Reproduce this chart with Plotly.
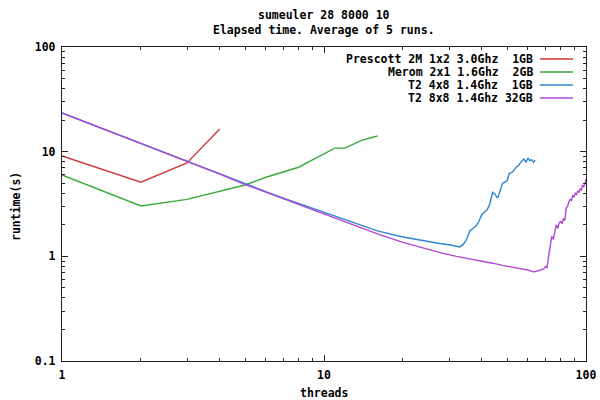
import plotly.graph_objects as go

# ---- data ----
prescott_threads = [1, 2, 3, 4]
prescott_runtime = [9.1, 5.1, 7.8, 16.5]

merom_threads = [1, 2, 3, 4, 5, 6, 7, 8, 9, 10, 11, 12, 13, 14, 15, 16]
merom_runtime = [6.0, 3.03, 3.5, 4.2, 4.8, 5.7, 6.4, 7.1, 8.3, 9.5, 10.8, 10.8, 11.8, 12.9, 13.5, 14.1]

t2_4x8_threads = [1, 2, 3, 4, 5, 6, 7, 8, 9, 10, 12, 14, 16, 20, 24, 28, 30, 32, 33,
                  34, 35, 36, 37, 38, 39, 40, 41, 42, 43, 44, 45, 46, 47, 48, 49, 50,
                  51, 52, 53, 54, 55, 56, 57, 58, 59, 60, 61, 62, 63, 64]
t2_4x8_runtime = [23.4, 12.0, 8.0, 6.1, 4.9, 4.15, 3.6, 3.2, 2.87, 2.62, 2.25, 1.97, 1.75, 1.53, 1.40, 1.32, 1.29, 1.25, 1.23,
                  1.30, 1.45, 1.75, 1.85, 1.95, 2.15, 2.5, 2.65, 2.8, 3.2, 4.1, 3.9, 3.6, 4.2, 5.0, 5.1, 5.3,
                  6.2, 6.3, 6.6, 7.1, 7.3, 7.8, 8.2, 8.5, 7.9, 8.7, 8.2, 8.4, 7.9, 8.3]

t2_8x8_threads = [1, 2, 3, 4, 5, 6, 7, 8, 9, 10, 12, 14, 16, 20, 24, 28, 32, 36, 40, 44, 48, 52, 56, 60,
                  63, 64, 65, 66, 67, 68, 69, 70, 71, 72, 73, 74, 75, 76, 77, 78, 79, 80, 81, 82, 83, 84,
                  85, 86, 87, 88, 89, 90, 91, 92, 93, 94, 95, 96, 97, 98, 99, 100, 104]
t2_8x8_runtime = [23.4, 12.0, 8.0, 6.1, 4.85, 4.1, 3.55, 3.15, 2.8, 2.55, 2.15, 1.86, 1.64, 1.36, 1.19, 1.08, 1.0, 0.95, 0.9, 0.86, 0.82, 0.79, 0.76, 0.74,
                  0.71, 0.71, 0.72, 0.73, 0.74, 0.74, 0.76, 0.80, 0.78, 1.0, 1.3, 1.55, 1.45, 1.75, 2.0, 1.85, 2.1, 2.15, 2.05, 2.3, 2.2, 2.9,
                  3.0, 3.3, 3.5, 3.4, 3.8, 3.7, 4.0, 3.9, 4.2, 4.1, 4.4, 4.3, 4.8, 4.6, 5.1, 5.4, 5.8]

series_names = ["Prescott 2M 1x2 3.0Ghz  1GB", "Merom 2x1 1.6Ghz  2GB",
                "T2 4x8 1.4Ghz  1GB", "T2 8x8 1.4Ghz 32GB"]
series_colors = ["#cc3a3a", "#3aaa3a", "#2f86d0", "#b048d4"]

x_major_ticks = [1, 10, 100]
x_major_labels = ["1", "10", "100"]
y_major_ticks = [0.1, 1, 10, 100]
y_major_labels = ["0.1", "1", "10", "100"]
x_minor_ticks = [2, 3, 4, 5, 6, 7, 8, 9, 20, 30, 40, 50, 60, 70, 80, 90]
y_minor_ticks = [0.2, 0.3, 0.4, 0.5, 0.6, 0.7, 0.8, 0.9, 2, 3, 4, 5, 6, 7, 8, 9,
                 20, 30, 40, 50, 60, 70, 80, 90]

title_lines = ["sumeuler 28 8000 10", "Elapsed time. Average of 5 runs."]
x_title = "threads"
y_title = "runtime(s)"

FONT = "DejaVu Sans Mono"
FS = 11.5
AX = "#222222"

fig = go.Figure()
all_x = [prescott_threads, merom_threads, t2_4x8_threads, t2_8x8_threads]
all_y = [prescott_runtime, merom_runtime, t2_4x8_runtime, t2_8x8_runtime]
for xs, ys, name, col in zip(all_x, all_y, series_names, series_colors):
    fig.add_trace(go.Scatter(x=xs, y=ys, mode="lines", name=name,
                             line=dict(color=col, width=1.4), showlegend=False))

tickfont = dict(family=FONT, size=FS, color="black", weight="bold")
axis_style = dict(type="log", showgrid=False, zeroline=False, automargin=False,
                  showline=True, linecolor=AX, linewidth=1.3, mirror="allticks",
                  ticks="inside", ticklen=6, tickwidth=1, tickcolor=AX,
                  tickfont=tickfont, tickmode="array", layer="above traces")

fig.update_xaxes(range=[0, 2], tickvals=x_major_ticks, ticktext=x_major_labels,
                 ticklabelstandoff=3,
                 minor=dict(tickmode="array", tickvals=x_minor_ticks, ticks="inside",
                            ticklen=3, tickwidth=1, tickcolor=AX, showgrid=False),
                 **axis_style)
fig.update_yaxes(range=[-1, 2], tickvals=y_major_ticks, ticktext=y_major_labels,
                 ticklabelstandoff=3,
                 minor=dict(tickmode="array", tickvals=y_minor_ticks, ticks="inside",
                            ticklen=3, tickwidth=1, tickcolor=AX, showgrid=False),
                 **axis_style)

annotations = []
annotations.append(dict(text="<br>".join(title_lines), xref="paper", yref="paper",
                        x=0.5, y=(361 - 22.5) / 314, xanchor="center", yanchor="middle",
                        showarrow=False, align="center", font=tickfont))
annotations.append(dict(text=x_title, xref="paper", yref="paper", x=0.5, y=(361 - 393) / 314,
                        xanchor="center", yanchor="middle", showarrow=False, font=tickfont))
annotations.append(dict(text=y_title, xref="paper", yref="paper", x=(16 - 62) / 524, y=(361 - 207) / 314,
                        xanchor="center", yanchor="middle", showarrow=False, textangle=-90,
                        font=tickfont))

shapes = []
legend_rows_y = [59, 72, 85, 98]
for name, col, ypx in zip(series_names, series_colors, legend_rows_y):
    py = (361 - ypx) / 314
    annotations.append(dict(text=name.replace(" ", "\u00a0"), xref="paper", yref="paper",
                            x=(535 - 62) / 524, y=py, xanchor="right", yanchor="middle",
                            showarrow=False, font=tickfont))
    shapes.append(dict(type="line", xref="paper", yref="paper",
                       x0=(540 - 62) / 524, x1=(573 - 62) / 524, y0=py, y1=py,
                       line=dict(color=col, width=1.4)))

fig.update_layout(
    width=600, height=400,
    margin=dict(l=62, r=14, t=47, b=39),
    paper_bgcolor="white", plot_bgcolor="white",
    annotations=annotations, shapes=shapes,
)

fig.write_html("out.html", config={"displayModeBar": False},
               post_script="document.body.style.margin='0';document.body.style.padding='0';")
